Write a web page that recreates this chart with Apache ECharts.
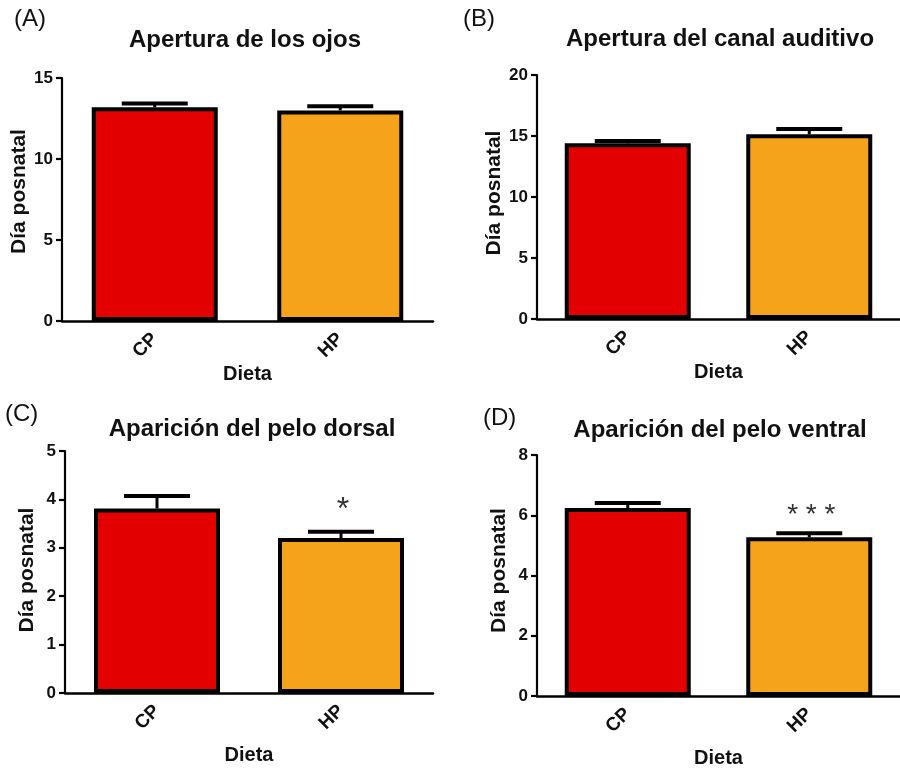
<!DOCTYPE html>
<html>
<head>
<meta charset="utf-8">
<script src="https://cdn.jsdelivr.net/npm/echarts@6/dist/echarts.min.js"></script>
<style>html,body{margin:0;padding:0;background:#fff}#c{width:900px;height:769px}</style>
</head>
<body>
<div id="c"></div>
<script>
// ---- data ----
const categories = ['CP', 'HP'];
const panelLetters = ['(A)', '(B)', '(C)', '(D)'];
const panelTitles = ['Apertura de los ojos', 'Apertura del canal auditivo', 'Aparición del pelo dorsal', 'Aparición del pelo ventral'];
const yAxisName = 'Día posnatal';
const xAxisName = 'Dieta';
const meanA = [13.2, 13.0];
const semA = [0.22, 0.25];
const meanB = [14.4, 15.15];
const semB = [0.2, 0.42];
const meanC = [3.81, 3.20];
const semC = [0.26, 0.13];
const meanD = [6.24, 5.27];
const semD = [0.17, 0.13];
const sigA = ['', ''];
const sigB = ['', ''];
const sigC = ['', '*'];
const sigD = ['', '* * *'];
const yMax = [15, 20, 5, 8];
const yInterval = [5, 5, 1, 2];

const means = [meanA, meanB, meanC, meanD];
const sems = [semA, semB, semC, semD];
const sigs = [sigA, sigB, sigC, sigD];
const barColors = ['#e20000', '#f5a31a'];
const FONT = "'Liberation Sans', Arial, sans-serif";

const grids = [
  {left: 62, top: 78, width: 371, height: 243},
  {left: 537, top: 75, width: 370, height: 244},
  {left: 65, top: 451, width: 368, height: 242},
  {left: 537, top: 455, width: 370, height: 243}
];
const xNameGap = [40, 41, 52, 52];
const yNameShift = [16, 8, 4, 10];
const titlePos = [[245, 28], [720, 27], [252, 417], [720, 418]];
const letterPos = [[14, 7], [463, 7], [5, 402], [483, 406]];
const sigOffset = [20, 20, 22, 18];
const sigFont = [30, 30, 32, 28];

const option = {
  backgroundColor: '#fff',
  animation: false,
  title: [],
  grid: grids,
  xAxis: [],
  yAxis: [],
  series: []
};

for (let i = 0; i < 4; i++) {
  option.title.push({
    text: panelTitles[i], left: titlePos[i][0], top: titlePos[i][1], textAlign: 'center', padding: 0,
    textStyle: {fontFamily: FONT, fontWeight: 'bold', fontSize: 24, color: '#111'}
  });
  option.title.push({
    text: panelLetters[i], left: letterPos[i][0], top: letterPos[i][1], padding: 0,
    textStyle: {fontFamily: FONT, fontWeight: 'normal', fontSize: 24, color: '#111'}
  });
  option.xAxis.push({
    type: 'category', gridIndex: i, data: categories,
    name: xAxisName, nameLocation: 'middle', nameGap: xNameGap[i],
    nameTextStyle: {fontFamily: FONT, fontWeight: 'bold', fontSize: 20, color: '#111'},
    axisLine: {lineStyle: {color: '#000', width: 2.5}},
    axisTick: {alignWithLabel: true, length: 7, lineStyle: {color: '#000', width: 3}},
    axisLabel: {rotate: 45, margin: 15, fontFamily: FONT, fontWeight: 'bold', fontSize: 19, color: '#111'}
  });
  option.yAxis.push({
    type: 'value', gridIndex: i, min: 0, max: yMax[i], interval: yInterval[i],
    name: yAxisName, nameLocation: 'middle', nameGap: 27,
    nameTextStyle: {fontFamily: FONT, fontWeight: 'bold', fontSize: 21, color: '#111', padding: [0, 0, 0, yNameShift[i]]},
    splitLine: {show: false},
    axisLine: {show: true, lineStyle: {color: '#000', width: 2.2}},
    axisTick: {show: true, length: 6, lineStyle: {color: '#000', width: 2.2}},
    axisLabel: {margin: 9, fontFamily: FONT, fontWeight: 'bold', fontSize: 17, color: '#111'}
  });
  option.series.push({
    type: 'bar', xAxisIndex: i, yAxisIndex: i, barWidth: 126,
    data: means[i].map((v, k) => ({value: v, itemStyle: {color: barColors[k]}})),
    itemStyle: {borderColor: '#000', borderWidth: 4},
    z: 2
  });
  const sig = sigs[i];
  const off = sigOffset[i];
  const fs = sigFont[i];
  option.series.push({
    type: 'custom', xAxisIndex: i, yAxisIndex: i, z: 3,
    data: means[i].map((v, k) => [k, v, sems[i][k]]),
    renderItem: function (params, api) {
      const base = api.coord([api.value(0), api.value(1)]);
      const top = api.coord([api.value(0), api.value(1) + api.value(2)]);
      const children = [
        {type: 'line', shape: {x1: base[0], y1: base[1], x2: top[0], y2: top[1]}, style: {stroke: '#000', lineWidth: 3}},
        {type: 'line', shape: {x1: top[0] - 33, y1: top[1], x2: top[0] + 33, y2: top[1]}, style: {stroke: '#000', lineWidth: 4}}
      ];
      const s = sig[params.dataIndex];
      if (s) {
        children.push({type: 'text', style: {text: s, x: top[0] + 2, y: top[1] - off, align: 'center', verticalAlign: 'middle', fontSize: fs, fontFamily: FONT, fill: '#333'}});
      }
      return {type: 'group', children: children};
    }
  });
}

const chart = echarts.init(document.getElementById('c'), null, {renderer: 'canvas'});
chart.setOption(option);
</script>
</body>
</html>
